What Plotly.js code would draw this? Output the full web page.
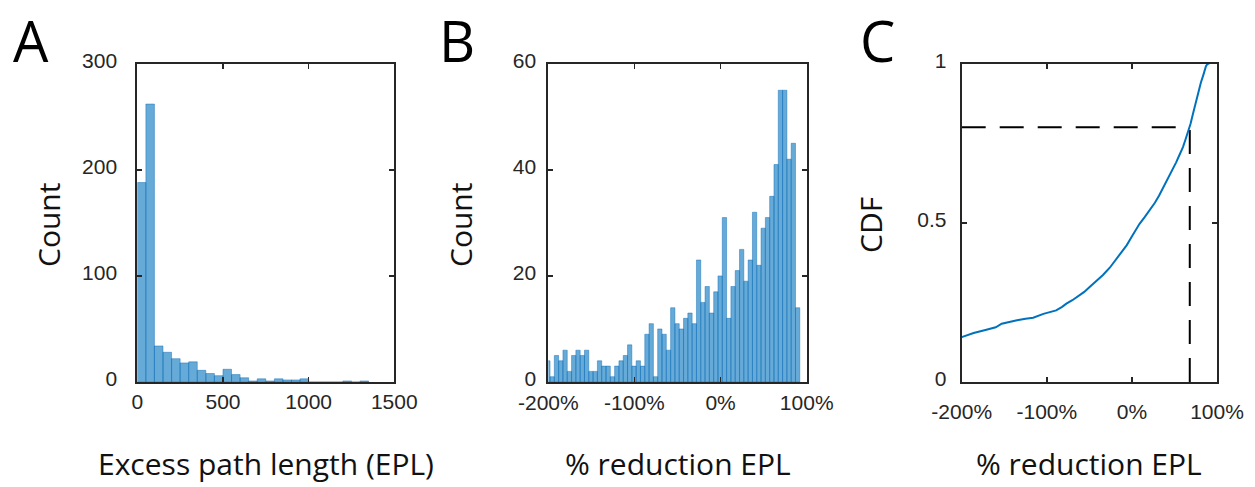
<!DOCTYPE html>
<html>
<head>
<meta charset="utf-8">
<script src="https://cdn.plot.ly/plotly-3.0.1.min.js"></script>
<style>
  html, body { margin: 0; padding: 0; background: #fff; }
  #chart { width: 1255px; height: 487px; }
</style>
</head>
<body>
<div id="chart"></div>
<script>
// ---------- DATA ----------
// Panel A: histogram of excess path length (bin left edges, counts)
const epLeftEdges = [0, 50, 100, 150, 200, 250, 300, 350, 400, 450, 500, 550, 600, 650,
                     700, 750, 800, 850, 900, 950, 1000, 1050, 1100, 1150, 1200, 1250, 1300];
const epCounts    = [188, 262, 34, 28, 22, 18, 19, 11, 8, 6, 12, 7, 4, 1,
                     3, 1, 3, 2, 2, 3, 0, 0, 0, 0, 1, 0, 1];
const epBinWidth = 50;

// Panel B: histogram of % reduction EPL (bin left edges, counts)
const redLeftEdges = [-203, -198, -193, -188, -183, -178, -173, -168, -163, -158,
                      -153, -148, -143, -138, -133, -128, -123, -118, -113, -108,
                      -103, -98, -93, -88, -83, -78, -73, -68, -63, -58,
                      -53, -48, -43, -38, -33, -28, -23, -18, -13, -8,
                      -3, 2, 7, 12, 17, 22, 27, 32, 37, 42,
                      47, 52, 57, 62, 67, 72, 77, 82, 87];
const redCounts = [4, 1, 5, 4, 6, 2, 5, 6, 5, 6,
                   2, 2, 4, 3, 3, 1, 3, 4, 5, 7,
                   3, 4, 3, 9, 11, 1, 10, 9, 6, 14,
                   11, 10, 12, 13, 11, 23, 15, 18, 13, 17,
                   20, 31, 12, 18, 21, 25, 19, 23, 32, 22,
                   29, 31, 35, 41, 55, 55, 42, 45, 14];
const redBinWidth = 5;

// Panel C: empirical CDF of % reduction EPL
const cdfX = [-200, -186, -171, -160, -153, -144, -135, -125, -116, -104,
              -96, -89, -82, -77, -70, -63, -56, -50, -42, -34,
              -26, -18, -12, -6, 1, 5, 9, 15, 21, 27,
              32, 37, 42, 47, 52, 56, 60, 63, 66, 69,
              72, 75, 78, 81, 84, 87, 89, 91];
const cdfY = [0.141, 0.154, 0.164, 0.172, 0.183, 0.189, 0.194, 0.199, 0.202, 0.214,
              0.219, 0.225, 0.236, 0.246, 0.257, 0.269, 0.283, 0.298, 0.316, 0.336,
              0.359, 0.387, 0.408, 0.43, 0.462, 0.481, 0.497, 0.518, 0.54, 0.563,
              0.586, 0.611, 0.638, 0.662, 0.69, 0.714, 0.738, 0.762, 0.785, 0.812,
              0.845, 0.879, 0.912, 0.94, 0.965, 0.992, 1.0, 1.0];
const threshX = 68;
const threshY = 0.8;
const xMin = -200;

// Tick values / labels
const aXTicks = [0, 500, 1000, 1500];
const aYTicks = [0, 100, 200, 300];
const pctTicks = [-200, -100, 0, 100];
const pctLabels = ['-200%', '-100%', '0%', '100%'];
const bYTicks = [0, 20, 40, 60];
const cYTicks = [0, 0.5, 1];
const cYLabels = ['0', '0.5', '1'];

// ---------- LAYOUT HELPERS ----------
const W = 1255, H = 487;
const px = x => x / W;
const py = y => 1 - y / H;

const barFill = 'rgba(0,114,189,0.6)';
const barEdge = 'rgba(0,100,180,0.7)';
const frame = '#262626';
const tickFont = {family: 'Liberation Sans, Arial, sans-serif', size: 21, color: '#262626'};
const titleFont = {family: 'Open Sans, sans-serif', size: 30, color: '#111'};
const letterFont = {family: 'Open Sans, sans-serif', size: 56, color: '#000'};

const centers = (edges, w) => edges.map(e => e + w / 2);

const traces = [
  {
    type: 'bar', x: centers(epLeftEdges, epBinWidth), y: epCounts, width: epBinWidth,
    marker: {color: barFill, line: {color: barEdge, width: 0.6}},
    xaxis: 'x', yaxis: 'y', hoverinfo: 'x+y'
  },
  {
    type: 'bar', x: centers(redLeftEdges, redBinWidth), y: redCounts, width: redBinWidth,
    marker: {color: barFill, line: {color: barEdge, width: 0.6}},
    xaxis: 'x2', yaxis: 'y2', hoverinfo: 'x+y'
  },
  {
    type: 'scatter', mode: 'lines', x: [xMin, threshX], y: [threshY, threshY],
    line: {color: '#000', width: 2, dash: '24px,14px'},
    xaxis: 'x3', yaxis: 'y3', hoverinfo: 'skip'
  },
  {
    type: 'scatter', mode: 'lines', x: [threshX, threshX], y: [0, threshY],
    line: {color: '#000', width: 2, dash: '24px,14px'},
    xaxis: 'x3', yaxis: 'y3', hoverinfo: 'skip'
  },
  {
    type: 'scatter', mode: 'lines', x: cdfX, y: cdfY,
    line: {color: '#0072BD', width: 2},
    xaxis: 'x3', yaxis: 'y3'
  }
];

const yDom = [py(382), py(63.7)];

function xAx(domain, range, tickvals, ticktext, anchor, standoff) {
  return {
    domain: domain, range: range, anchor: anchor,
    tickmode: 'array', tickvals: tickvals, ticktext: ticktext,
    showline: true, mirror: 'ticks', linecolor: frame, linewidth: 2,
    ticks: 'inside', ticklen: 5, tickwidth: 1.5, tickcolor: frame,
    showgrid: false, zeroline: false, tickfont: tickFont,
    ticklabelstandoff: standoff, fixedrange: true
  };
}
function yAx(range, tickvals, ticktext, anchor, standoff) {
  return {
    domain: yDom, range: range, anchor: anchor,
    tickmode: 'array', tickvals: tickvals, ticktext: ticktext,
    showline: true, mirror: 'ticks', linecolor: frame, linewidth: 2,
    ticks: 'inside', ticklen: 5, tickwidth: 1.5, tickcolor: frame,
    showgrid: false, zeroline: false, tickfont: tickFont,
    ticklabelstandoff: standoff, ticklabelshift: -3, fixedrange: true
  };
}

const ann = (text, x, y, font, extra) => Object.assign({
  text: text, xref: 'paper', yref: 'paper', x: px(x), y: py(y),
  xanchor: 'center', yanchor: 'middle', showarrow: false, font: font
}, extra || {});

const bottomTitle = (text, x) => ann(text, x, 486, titleFont, {yanchor: 'bottom'});

const layout = {
  width: W, height: H,
  margin: {l: 0, r: 0, t: 0, b: 0},
  paper_bgcolor: '#fff', plot_bgcolor: '#fff',
  showlegend: false, bargap: 0,
  xaxis:  xAx([px(137.3), px(394.3)], [0, 1500], aXTicks, aXTicks.map(String), 'y', 0),
  yaxis:  yAx([0, 300], aYTicks, aYTicks.map(String), 'x', 14),
  xaxis2: xAx([px(548.3), px(806.7)], [-200, 100], pctTicks, pctLabels, 'y2', 1),
  yaxis2: yAx([0, 60], bYTicks, bYTicks.map(String), 'x2', 6),
  xaxis3: xAx([px(961.7), px(1217)], [-200, 100], pctTicks, pctLabels, 'y3', 10),
  yaxis3: yAx([0, 1], cYTicks, cYLabels, 'x3', 9),
  annotations: [
    ann('A', 31, 40, letterFont),
    ann('B', 457, 40, letterFont),
    ann('C', 877, 40, letterFont),
    bottomTitle('Excess path length (EPL)', 265.8),
    bottomTitle('% reduction EPL', 677.5),
    bottomTitle('% reduction EPL', 1089.3),
    ann('Count', 48, 225, titleFont, {textangle: -90}),
    ann('Count', 460, 225, titleFont, {textangle: -90}),
    ann('CDF', 870, 225, titleFont, {textangle: -90})
  ]
};

Plotly.newPlot('chart', traces, layout, {staticPlot: true, displayModeBar: false});
</script>
</body>
</html>
